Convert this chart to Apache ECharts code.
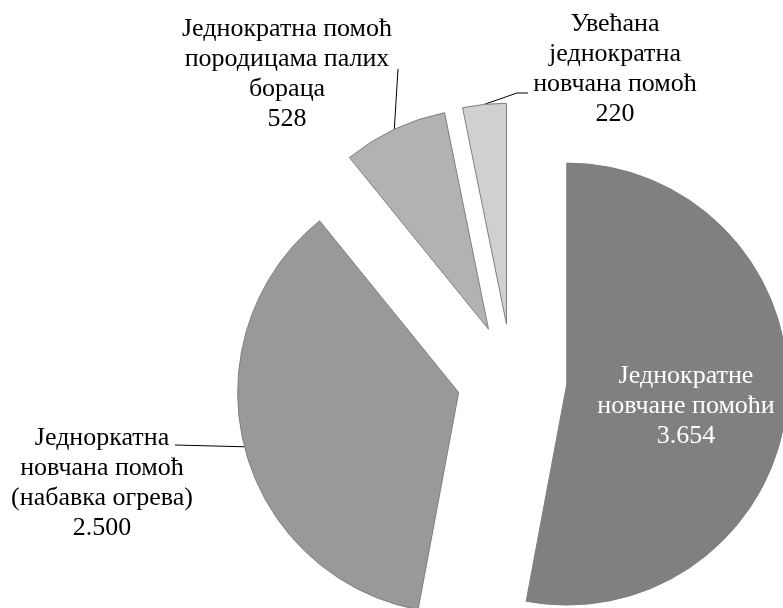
<!DOCTYPE html>
<html>
<head>
<meta charset="utf-8">
<style>
  html, body { margin: 0; padding: 0; background: #ffffff; }
  #chart { width: 783px; height: 608px; }
</style>
<script src="https://cdn.jsdelivr.net/npm/echarts@6/dist/echarts.min.js"></script>
</head>
<body>
<div id="chart"></div>
<script>
// ---- data ----
const categories = [
  'Једнократне новчане помоћи',
  'Једноркатна новчана помоћ (набавка огрева)',
  'Једнократна помоћ породицама палих бораца',
  'Увећана једнократна новчана помоћ'
];
const labelTexts = [
  ['Једнократне', 'новчане помоћи'],
  ['Једноркатна', 'новчана помоћ', '(набавка огрева)'],
  ['Једнократна помоћ', 'породицама палих', 'бораца'],
  ['Увећана', 'једнократна', 'новчана помоћ']
];
const values = [3654, 2500, 528, 220];

// ---- styles / layout ----
const colors = ['#808080', '#999999', '#b2b2b2', '#d0d0d0'];
const labelColors = ['#ffffff', '#000000', '#000000', '#000000'];
const labelCenters = [[686, 406], [102, 483], [287, 74], [615, 69]];
// leader-line path offsets relative to the label centre (after the anchor on the slice)
const leaderOffsets = [null, [[73, -38]], [[111, -5]], [[-98, 24], [-87, 24]]];
const pieCenter = [512, 379];
const pieRadius = 221;
const explode = 55;

function fmt(v) {
  return String(v).replace(/\B(?=(\d{3})+(?!\d))/g, '.');
}

const chart = echarts.init(document.getElementById('chart'), null, { renderer: 'canvas' });

const total = values.reduce(function (a, b) { return a + b; }, 0);
let cum = 0;
const series = values.map(function (v, i) {
  // exploded slice: shift this series' centre along the slice's mid angle
  const midFrac = (cum + v / 2) / total;
  cum += v;
  const ang = (90 - 360 * midFrac) * Math.PI / 180;
  const cx = pieCenter[0] + explode * Math.cos(ang);
  const cy = pieCenter[1] - explode * Math.sin(ang);
  return {
    type: 'pie',
    center: [cx, cy],
    radius: pieRadius,
    startAngle: 90,
    clockwise: true,
    silent: true,
    avoidLabelOverlap: false,
    emphasis: { disabled: true },
    label: {
      show: true,
      position: i === 0 ? 'inside' : 'outside',
      fontFamily: 'Liberation Serif',
      fontSize: 26,
      lineHeight: 30,
      color: labelColors[i],
      align: 'center',
      formatter: function (p) {
        return labelTexts[p.dataIndex].join('\n') + '\n' + fmt(p.value);
      }
    },
    labelLine: {
      show: i !== 0,
      length: 8,
      length2: 10,
      lineStyle: { color: '#000000', width: 1 }
    },
    labelLayout: function (p) {
      if (p.dataIndex !== i) { return {}; }
      const c = labelCenters[i];
      const out = { x: c[0], y: c[1], align: 'center', verticalAlign: 'middle' };
      const offs = leaderOffsets[i];
      if (offs && p.labelLinePoints && p.labelLinePoints.length) {
        const start = p.labelLinePoints[0];
        const pts = [[start[0], start[1]]];
        offs.forEach(function (o) { pts.push([c[0] + o[0], c[1] + o[1]]); });
        if (pts.length < 3) { pts.push(pts[pts.length - 1].slice()); }
        out.labelLinePoints = pts;
      }
      return out;
    },
    data: values.map(function (w, j) {
      const own = j === i;
      return {
        name: categories[j],
        value: w,
        itemStyle: own
          ? { color: colors[j], borderColor: '#7f7f7f', borderWidth: 1 }
          : { color: 'rgba(0,0,0,0)', borderWidth: 0 },
        label: { show: own },
        labelLine: { show: own && i !== 0 }
      };
    })
  };
});

chart.setOption({
  animation: false,
  backgroundColor: '#ffffff',
  series: series
});
</script>
</body>
</html>
